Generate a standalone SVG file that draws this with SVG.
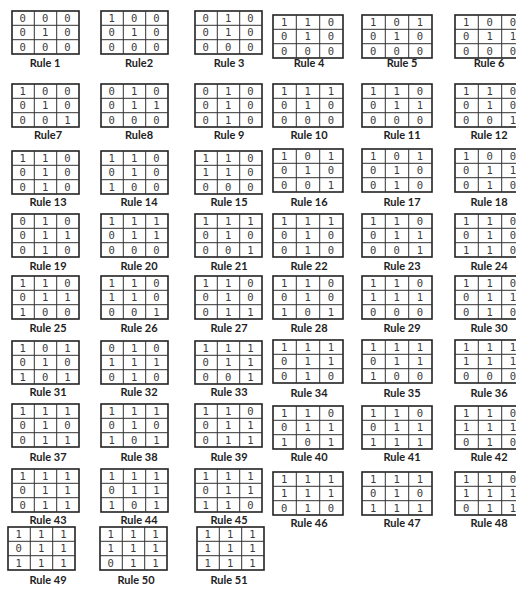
<svg xmlns="http://www.w3.org/2000/svg" xmlns:xlink="http://www.w3.org/1999/xlink" width="516" height="589" viewBox="0 0 516 589">
<style>
.d{font-family:"DejaVu Sans Mono",monospace;font-size:10.5px;fill:#3a3a3a}
.l{font-family:Lato,"Liberation Sans",sans-serif;font-weight:bold;font-size:11px;fill:#222;text-anchor:middle}
.g rect{fill:#fff;stroke:#222;stroke-width:1.6}
.g line{stroke:#333;stroke-width:1}
</style>
<defs>
<g id="gA" class="g"><rect x="0" y="0" width="67" height="43"/><line x1="22.3" y1="0" x2="22.3" y2="43"/><line x1="44.7" y1="0" x2="44.7" y2="43"/><line x1="0" y1="14.3" x2="67" y2="14.3"/><line x1="0" y1="28.7" x2="67" y2="28.7"/></g>
<g id="gB" class="g"><rect x="0" y="0" width="70" height="43"/><line x1="23.3" y1="0" x2="23.3" y2="43"/><line x1="46.7" y1="0" x2="46.7" y2="43"/><line x1="0" y1="14.3" x2="70" y2="14.3"/><line x1="0" y1="28.7" x2="70" y2="28.7"/></g>
</defs>
<rect width="516" height="589" fill="#fff"/>
<g id="connectors"/>

<!-- Row 1 -->
<g id="rule-1"><g transform="translate(12,11)"><use xlink:href="#gA"/><text class="d" x="7.6 29.9 52.2" y="11">000</text><text class="d" x="7.6 29.9 52.2" y="25.3">010</text><text class="d" x="7.6 29.9 52.2" y="39.6">000</text></g><text class="l" x="45" y="67">Rule 1</text></g>
<g id="rule-2"><g transform="translate(101,11)"><use xlink:href="#gA"/><text class="d" x="7.6 29.9 52.2" y="11">100</text><text class="d" x="7.6 29.9 52.2" y="25.3">010</text><text class="d" x="7.6 29.9 52.2" y="39.6">000</text></g><text class="l" x="139" y="67">Rule2</text></g>
<g id="rule-3"><g transform="translate(195,11)"><use xlink:href="#gA"/><text class="d" x="7.6 29.9 52.2" y="11">010</text><text class="d" x="7.6 29.9 52.2" y="25.3">010</text><text class="d" x="7.6 29.9 52.2" y="39.6">000</text></g><text class="l" x="229" y="67">Rule 3</text></g>
<g id="rule-4"><g transform="translate(273,15)"><use xlink:href="#gB"/><text class="d" x="8.1 31.4 54.7" y="11">110</text><text class="d" x="8.1 31.4 54.7" y="25.3">010</text><text class="d" x="8.1 31.4 54.7" y="39.6">000</text></g><text class="l" x="309" y="67">Rule 4</text></g>
<g id="rule-5"><g transform="translate(362,15)"><use xlink:href="#gB"/><text class="d" x="8.1 31.4 54.7" y="11">101</text><text class="d" x="8.1 31.4 54.7" y="25.3">010</text><text class="d" x="8.1 31.4 54.7" y="39.6">000</text></g><text class="l" x="402" y="67">Rule 5</text></g>
<g id="rule-6"><g transform="translate(455,15)"><use xlink:href="#gB"/><text class="d" x="8.1 31.4 54.7" y="11">100</text><text class="d" x="8.1 31.4 54.7" y="25.3">011</text><text class="d" x="8.1 31.4 54.7" y="39.6">000</text></g><text class="l" x="489" y="67">Rule 6</text></g>

<!-- Row 2 -->
<g id="rule-7"><g transform="translate(12,84)"><use xlink:href="#gA"/><text class="d" x="7.6 29.9 52.2" y="11">100</text><text class="d" x="7.6 29.9 52.2" y="25.3">010</text><text class="d" x="7.6 29.9 52.2" y="39.6">001</text></g><text class="l" x="48" y="139">Rule7</text></g>
<g id="rule-8"><g transform="translate(101,84)"><use xlink:href="#gA"/><text class="d" x="7.6 29.9 52.2" y="11">010</text><text class="d" x="7.6 29.9 52.2" y="25.3">011</text><text class="d" x="7.6 29.9 52.2" y="39.6">000</text></g><text class="l" x="139" y="139">Rule8</text></g>
<g id="rule-9"><g transform="translate(195,84)"><use xlink:href="#gA"/><text class="d" x="7.6 29.9 52.2" y="11">010</text><text class="d" x="7.6 29.9 52.2" y="25.3">010</text><text class="d" x="7.6 29.9 52.2" y="39.6">010</text></g><text class="l" x="229" y="139">Rule 9</text></g>
<g id="rule-10"><g transform="translate(273,84)"><use xlink:href="#gB"/><text class="d" x="8.1 31.4 54.7" y="11">111</text><text class="d" x="8.1 31.4 54.7" y="25.3">010</text><text class="d" x="8.1 31.4 54.7" y="39.6">000</text></g><text class="l" x="309" y="139">Rule 10</text></g>
<g id="rule-11"><g transform="translate(362,84)"><use xlink:href="#gB"/><text class="d" x="8.1 31.4 54.7" y="11">110</text><text class="d" x="8.1 31.4 54.7" y="25.3">011</text><text class="d" x="8.1 31.4 54.7" y="39.6">000</text></g><text class="l" x="402" y="139">Rule 11</text></g>
<g id="rule-12"><g transform="translate(455,84)"><use xlink:href="#gB"/><text class="d" x="8.1 31.4 54.7" y="11">110</text><text class="d" x="8.1 31.4 54.7" y="25.3">010</text><text class="d" x="8.1 31.4 54.7" y="39.6">001</text></g><text class="l" x="489" y="139">Rule 12</text></g>

<!-- Row 3 -->
<g id="rule-13"><g transform="translate(12,151)"><use xlink:href="#gA"/><text class="d" x="7.6 29.9 52.2" y="11">110</text><text class="d" x="7.6 29.9 52.2" y="25.3">010</text><text class="d" x="7.6 29.9 52.2" y="39.6">010</text></g><text class="l" x="48" y="206">Rule 13</text></g>
<g id="rule-14"><g transform="translate(101,151)"><use xlink:href="#gA"/><text class="d" x="7.6 29.9 52.2" y="11">110</text><text class="d" x="7.6 29.9 52.2" y="25.3">010</text><text class="d" x="7.6 29.9 52.2" y="39.6">100</text></g><text class="l" x="139" y="206">Rule 14</text></g>
<g id="rule-15"><g transform="translate(195,151)"><use xlink:href="#gA"/><text class="d" x="7.6 29.9 52.2" y="11">110</text><text class="d" x="7.6 29.9 52.2" y="25.3">110</text><text class="d" x="7.6 29.9 52.2" y="39.6">000</text></g><text class="l" x="229" y="206">Rule 15</text></g>
<g id="rule-16"><g transform="translate(273,149)"><use xlink:href="#gB"/><text class="d" x="8.1 31.4 54.7" y="11">101</text><text class="d" x="8.1 31.4 54.7" y="25.3">010</text><text class="d" x="8.1 31.4 54.7" y="39.6">001</text></g><text class="l" x="309" y="206">Rule 16</text></g>
<g id="rule-17"><g transform="translate(362,149)"><use xlink:href="#gB"/><text class="d" x="8.1 31.4 54.7" y="11">101</text><text class="d" x="8.1 31.4 54.7" y="25.3">010</text><text class="d" x="8.1 31.4 54.7" y="39.6">010</text></g><text class="l" x="402" y="206">Rule 17</text></g>
<g id="rule-18"><g transform="translate(455,149)"><use xlink:href="#gB"/><text class="d" x="8.1 31.4 54.7" y="11">100</text><text class="d" x="8.1 31.4 54.7" y="25.3">011</text><text class="d" x="8.1 31.4 54.7" y="39.6">010</text></g><text class="l" x="489" y="206">Rule 18</text></g>

<!-- Row 4 -->
<g id="rule-19"><g transform="translate(12,214)"><use xlink:href="#gA"/><text class="d" x="7.6 29.9 52.2" y="11">010</text><text class="d" x="7.6 29.9 52.2" y="25.3">011</text><text class="d" x="7.6 29.9 52.2" y="39.6">010</text></g><text class="l" x="48" y="270">Rule 19</text></g>
<g id="rule-20"><g transform="translate(101,214)"><use xlink:href="#gA"/><text class="d" x="7.6 29.9 52.2" y="11">111</text><text class="d" x="7.6 29.9 52.2" y="25.3">011</text><text class="d" x="7.6 29.9 52.2" y="39.6">000</text></g><text class="l" x="139" y="270">Rule 20</text></g>
<g id="rule-21"><g transform="translate(195,214)"><use xlink:href="#gA"/><text class="d" x="7.6 29.9 52.2" y="11">111</text><text class="d" x="7.6 29.9 52.2" y="25.3">010</text><text class="d" x="7.6 29.9 52.2" y="39.6">001</text></g><text class="l" x="229" y="270">Rule 21</text></g>
<g id="rule-22"><g transform="translate(273,214)"><use xlink:href="#gB"/><text class="d" x="8.1 31.4 54.7" y="11">111</text><text class="d" x="8.1 31.4 54.7" y="25.3">010</text><text class="d" x="8.1 31.4 54.7" y="39.6">010</text></g><text class="l" x="309" y="270">Rule 22</text></g>
<g id="rule-23"><g transform="translate(362,214)"><use xlink:href="#gB"/><text class="d" x="8.1 31.4 54.7" y="11">110</text><text class="d" x="8.1 31.4 54.7" y="25.3">011</text><text class="d" x="8.1 31.4 54.7" y="39.6">001</text></g><text class="l" x="402" y="270">Rule 23</text></g>
<g id="rule-24"><g transform="translate(455,214)"><use xlink:href="#gB"/><text class="d" x="8.1 31.4 54.7" y="11">110</text><text class="d" x="8.1 31.4 54.7" y="25.3">010</text><text class="d" x="8.1 31.4 54.7" y="39.6">110</text></g><text class="l" x="489" y="270">Rule 24</text></g>

<!-- Row 5 -->
<g id="rule-25"><g transform="translate(12,276)"><use xlink:href="#gA"/><text class="d" x="7.6 29.9 52.2" y="11">110</text><text class="d" x="7.6 29.9 52.2" y="25.3">011</text><text class="d" x="7.6 29.9 52.2" y="39.6">100</text></g><text class="l" x="48" y="332">Rule 25</text></g>
<g id="rule-26"><g transform="translate(101,276)"><use xlink:href="#gA"/><text class="d" x="7.6 29.9 52.2" y="11">110</text><text class="d" x="7.6 29.9 52.2" y="25.3">110</text><text class="d" x="7.6 29.9 52.2" y="39.6">001</text></g><text class="l" x="139" y="332">Rule 26</text></g>
<g id="rule-27"><g transform="translate(195,276)"><use xlink:href="#gA"/><text class="d" x="7.6 29.9 52.2" y="11">110</text><text class="d" x="7.6 29.9 52.2" y="25.3">010</text><text class="d" x="7.6 29.9 52.2" y="39.6">011</text></g><text class="l" x="229" y="332">Rule 27</text></g>
<g id="rule-28"><g transform="translate(273,276)"><use xlink:href="#gB"/><text class="d" x="8.1 31.4 54.7" y="11">110</text><text class="d" x="8.1 31.4 54.7" y="25.3">010</text><text class="d" x="8.1 31.4 54.7" y="39.6">101</text></g><text class="l" x="309" y="332">Rule 28</text></g>
<g id="rule-29"><g transform="translate(362,276)"><use xlink:href="#gB"/><text class="d" x="8.1 31.4 54.7" y="11">110</text><text class="d" x="8.1 31.4 54.7" y="25.3">111</text><text class="d" x="8.1 31.4 54.7" y="39.6">000</text></g><text class="l" x="402" y="332">Rule 29</text></g>
<g id="rule-30"><g transform="translate(455,276)"><use xlink:href="#gB"/><text class="d" x="8.1 31.4 54.7" y="11">110</text><text class="d" x="8.1 31.4 54.7" y="25.3">011</text><text class="d" x="8.1 31.4 54.7" y="39.6">010</text></g><text class="l" x="489" y="332">Rule 30</text></g>

<!-- Row 6 -->
<g id="rule-31"><g transform="translate(12,341)"><use xlink:href="#gA"/><text class="d" x="7.6 29.9 52.2" y="11">101</text><text class="d" x="7.6 29.9 52.2" y="25.3">010</text><text class="d" x="7.6 29.9 52.2" y="39.6">101</text></g><text class="l" x="48" y="396">Rule 31</text></g>
<g id="rule-32"><g transform="translate(101,341)"><use xlink:href="#gA"/><text class="d" x="7.6 29.9 52.2" y="11">010</text><text class="d" x="7.6 29.9 52.2" y="25.3">111</text><text class="d" x="7.6 29.9 52.2" y="39.6">010</text></g><text class="l" x="139" y="396">Rule 32</text></g>
<g id="rule-33"><g transform="translate(195,341)"><use xlink:href="#gA"/><text class="d" x="7.6 29.9 52.2" y="11">111</text><text class="d" x="7.6 29.9 52.2" y="25.3">011</text><text class="d" x="7.6 29.9 52.2" y="39.6">001</text></g><text class="l" x="229" y="396">Rule 33</text></g>
<g id="rule-34"><g transform="translate(273,340)"><use xlink:href="#gB"/><text class="d" x="8.1 31.4 54.7" y="11">111</text><text class="d" x="8.1 31.4 54.7" y="25.3">011</text><text class="d" x="8.1 31.4 54.7" y="39.6">010</text></g><text class="l" x="309" y="397">Rule 34</text></g>
<g id="rule-35"><g transform="translate(362,340)"><use xlink:href="#gB"/><text class="d" x="8.1 31.4 54.7" y="11">111</text><text class="d" x="8.1 31.4 54.7" y="25.3">011</text><text class="d" x="8.1 31.4 54.7" y="39.6">100</text></g><text class="l" x="402" y="397">Rule 35</text></g>
<g id="rule-36"><g transform="translate(455,340)"><use xlink:href="#gB"/><text class="d" x="8.1 31.4 54.7" y="11">111</text><text class="d" x="8.1 31.4 54.7" y="25.3">111</text><text class="d" x="8.1 31.4 54.7" y="39.6">000</text></g><text class="l" x="489" y="397">Rule 36</text></g>

<!-- Row 7 -->
<g id="rule-37"><g transform="translate(12,404)"><use xlink:href="#gA"/><text class="d" x="7.6 29.9 52.2" y="11">111</text><text class="d" x="7.6 29.9 52.2" y="25.3">010</text><text class="d" x="7.6 29.9 52.2" y="39.6">011</text></g><text class="l" x="48" y="461">Rule 37</text></g>
<g id="rule-38"><g transform="translate(101,404)"><use xlink:href="#gA"/><text class="d" x="7.6 29.9 52.2" y="11">111</text><text class="d" x="7.6 29.9 52.2" y="25.3">010</text><text class="d" x="7.6 29.9 52.2" y="39.6">101</text></g><text class="l" x="139" y="461">Rule 38</text></g>
<g id="rule-39"><g transform="translate(195,404)"><use xlink:href="#gA"/><text class="d" x="7.6 29.9 52.2" y="11">110</text><text class="d" x="7.6 29.9 52.2" y="25.3">011</text><text class="d" x="7.6 29.9 52.2" y="39.6">011</text></g><text class="l" x="229" y="461">Rule 39</text></g>
<g id="rule-40"><g transform="translate(273,406)"><use xlink:href="#gB"/><text class="d" x="8.1 31.4 54.7" y="11">110</text><text class="d" x="8.1 31.4 54.7" y="25.3">011</text><text class="d" x="8.1 31.4 54.7" y="39.6">101</text></g><text class="l" x="309" y="461">Rule 40</text></g>
<g id="rule-41"><g transform="translate(362,406)"><use xlink:href="#gB"/><text class="d" x="8.1 31.4 54.7" y="11">110</text><text class="d" x="8.1 31.4 54.7" y="25.3">011</text><text class="d" x="8.1 31.4 54.7" y="39.6">111</text></g><text class="l" x="402" y="461">Rule 41</text></g>
<g id="rule-42"><g transform="translate(455,406)"><use xlink:href="#gB"/><text class="d" x="8.1 31.4 54.7" y="11">110</text><text class="d" x="8.1 31.4 54.7" y="25.3">111</text><text class="d" x="8.1 31.4 54.7" y="39.6">010</text></g><text class="l" x="489" y="461">Rule 42</text></g>

<!-- Row 8 -->
<g id="rule-43"><g transform="translate(12,469)"><use xlink:href="#gA"/><text class="d" x="7.6 29.9 52.2" y="11">111</text><text class="d" x="7.6 29.9 52.2" y="25.3">011</text><text class="d" x="7.6 29.9 52.2" y="39.6">011</text></g><text class="l" x="48" y="524">Rule 43</text></g>
<g id="rule-44"><g transform="translate(101,469)"><use xlink:href="#gA"/><text class="d" x="7.6 29.9 52.2" y="11">111</text><text class="d" x="7.6 29.9 52.2" y="25.3">011</text><text class="d" x="7.6 29.9 52.2" y="39.6">101</text></g><text class="l" x="139" y="524">Rule 44</text></g>
<g id="rule-45"><g transform="translate(195,469)"><use xlink:href="#gA"/><text class="d" x="7.6 29.9 52.2" y="11">111</text><text class="d" x="7.6 29.9 52.2" y="25.3">011</text><text class="d" x="7.6 29.9 52.2" y="39.6">110</text></g><text class="l" x="229" y="524">Rule 45</text></g>
<g id="rule-46"><g transform="translate(273,472)"><use xlink:href="#gB"/><text class="d" x="8.1 31.4 54.7" y="11">111</text><text class="d" x="8.1 31.4 54.7" y="25.3">111</text><text class="d" x="8.1 31.4 54.7" y="39.6">010</text></g><text class="l" x="309" y="527">Rule 46</text></g>
<g id="rule-47"><g transform="translate(362,472)"><use xlink:href="#gB"/><text class="d" x="8.1 31.4 54.7" y="11">111</text><text class="d" x="8.1 31.4 54.7" y="25.3">010</text><text class="d" x="8.1 31.4 54.7" y="39.6">111</text></g><text class="l" x="402" y="527">Rule 47</text></g>
<g id="rule-48"><g transform="translate(455,472)"><use xlink:href="#gB"/><text class="d" x="8.1 31.4 54.7" y="11">110</text><text class="d" x="8.1 31.4 54.7" y="25.3">111</text><text class="d" x="8.1 31.4 54.7" y="39.6">011</text></g><text class="l" x="489" y="527">Rule 48</text></g>

<!-- Row 9 -->
<g id="rule-49"><g transform="translate(8,527)"><use xlink:href="#gA"/><text class="d" x="7.6 29.9 52.2" y="11">111</text><text class="d" x="7.6 29.9 52.2" y="25.3">011</text><text class="d" x="7.6 29.9 52.2" y="39.6">111</text></g><text class="l" x="48" y="584">Rule 49</text></g>
<g id="rule-50"><g transform="translate(100,527)"><use xlink:href="#gA"/><text class="d" x="7.6 29.9 52.2" y="11">111</text><text class="d" x="7.6 29.9 52.2" y="25.3">111</text><text class="d" x="7.6 29.9 52.2" y="39.6">011</text></g><text class="l" x="136" y="584">Rule 50</text></g>
<g id="rule-51"><g transform="translate(197,527)"><use xlink:href="#gA"/><text class="d" x="7.6 29.9 52.2" y="11">111</text><text class="d" x="7.6 29.9 52.2" y="25.3">111</text><text class="d" x="7.6 29.9 52.2" y="39.6">111</text></g><text class="l" x="229" y="584">Rule 51</text></g>
</svg>
